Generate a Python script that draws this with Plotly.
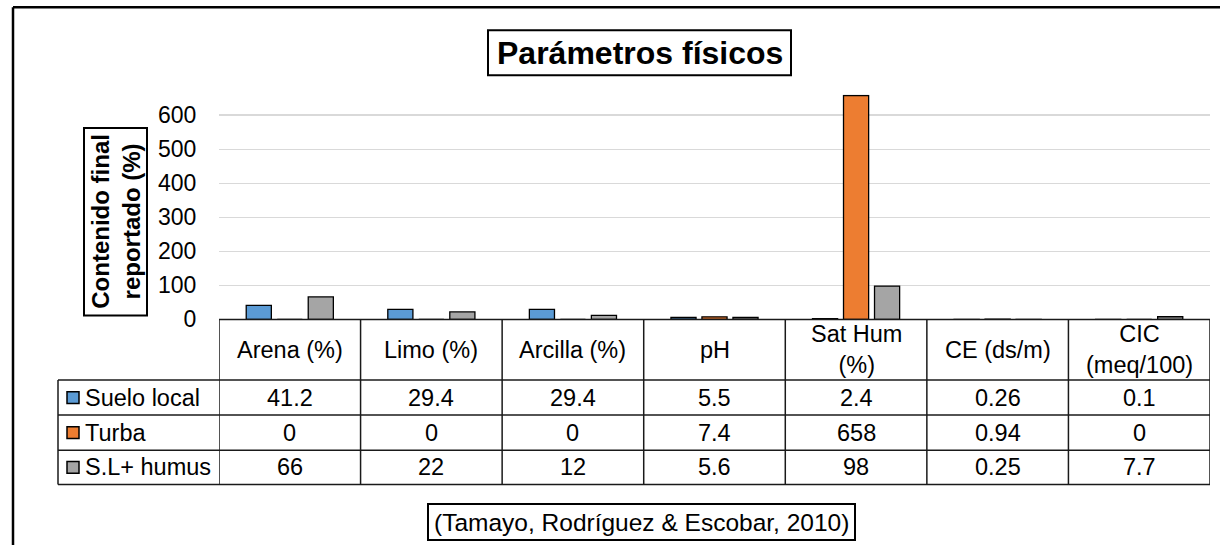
import plotly.graph_objects as go

categories = ["Arena (%)", "Limo (%)", "Arcilla (%)", "pH", "Sat Hum<br>(%)", "CE (ds/m)", "CIC<br>(meq/100)"]
series_names = ["Suelo local", "Turba", "S.L+ humus"]
suelo_local = [41.2, 29.4, 29.4, 5.5, 2.4, 0.26, 0.1]
turba = [0, 0, 0, 7.4, 658, 0.94, 0]
sl_humus = [66, 22, 12, 5.6, 98, 0.25, 7.7]
colors = ["#5B9BD5", "#ED7D31", "#A5A5A5"]
y_ticks = [0, 100, 200, 300, 400, 500, 600]
title_text = "Parámetros físicos"
ytitle_text = "Contenido final<br>reportado (%)"
source_text = "(Tamayo, Rodríguez & Escobar, 2010)"

W, H = 1220, 558
FONT = "Liberation Sans, Arial, sans-serif"
FS = 23.5

def px(x):
    return x / W

def py(y):
    return 1 - y / H

series = [suelo_local, turba, sl_humus]
xidx = list(range(len(categories)))

fig = go.Figure()
for name, vals, col in zip(series_names, series, colors):
    fig.add_trace(go.Bar(
        x=xidx, y=vals, name=name,
        marker=dict(color=col, line=dict(color="#000000", width=1.3)),
        showlegend=False, hoverinfo="skip",
    ))

plot_left, plot_right = 219, 1210
y0_px, top_px = 327, 97.1
row_edges = [327, 389, 425, 461, 496]
legend_left = 58

fig.update_layout(
    width=W, height=H, autosize=False,
    margin=dict(l=0, r=0, t=0, b=0),
    paper_bgcolor="white", plot_bgcolor="white",
    barmode="group", bargap=0.343, bargroupgap=0.19,
    font=dict(family=FONT, size=FS, color="#000000"),
    xaxis=dict(domain=[px(plot_left), px(plot_right)], range=[-0.5, len(categories) - 0.5],
               showticklabels=False, showgrid=False, zeroline=False, showline=False, fixedrange=True),
    yaxis=dict(domain=[py(y0_px), py(top_px)], range=[0, 660], tickvals=y_ticks,
               showgrid=True, gridcolor="#D9D9D9", gridwidth=1.5, zeroline=False, showline=False,
               ticks="outside", ticklen=17, tickcolor="rgba(0,0,0,0)",
               tickfont=dict(family=FONT, size=23, color="#000000")),
)

shapes = []
line_col = "#1a1a1a"
shapes.append(dict(type="line", xref="paper", yref="paper", x0=px(plot_left), x1=px(plot_right),
                   y0=py(row_edges[0]), y1=py(row_edges[0]), line=dict(color=line_col, width=1.5)))
for ry in row_edges[1:]:
    shapes.append(dict(type="line", xref="paper", yref="paper", x0=px(legend_left), x1=px(plot_right),
                       y0=py(ry), y1=py(ry), line=dict(color=line_col, width=1.5)))
for i in range(len(categories) + 1):
    shapes.append(dict(type="line", xref="x", yref="paper", x0=i - 0.5, x1=i - 0.5,
                       y0=py(row_edges[0]), y1=py(row_edges[-1]), line=dict(color=line_col, width=1.5)))
shapes.append(dict(type="line", xref="paper", yref="paper", x0=px(legend_left), x1=px(legend_left),
                   y0=py(row_edges[1]), y1=py(row_edges[-1]), line=dict(color=line_col, width=1.5)))

annotations = []
for i, c in enumerate(categories):
    annotations.append(dict(x=i, y=py((row_edges[0] + row_edges[1]) / 2), xref="x", yref="paper",
                            text=c, showarrow=False, xanchor="center", yanchor="middle",
                            font=dict(family=FONT, size=FS, color="#000000")))
for r, (name, vals, col) in enumerate(zip(series_names, series, colors)):
    yc = (row_edges[r + 1] + row_edges[r + 2]) / 2
    shapes.append(dict(type="rect", xref="paper", yref="paper", x0=px(67), x1=px(79),
                       y0=py(yc - 6), y1=py(yc + 6), fillcolor=col, line=dict(color="#000000", width=1.5)))
    annotations.append(dict(x=px(83), y=py(yc), xref="paper", yref="paper", text=name, showarrow=False,
                            xanchor="left", yanchor="middle", font=dict(family=FONT, size=FS, color="#000000")))
    for i, v in enumerate(vals):
        annotations.append(dict(x=i, y=py(yc), xref="x", yref="paper", text=f"{v:g}", showarrow=False,
                                xanchor="center", yanchor="middle",
                                font=dict(family=FONT, size=FS, color="#000000")))

shapes.append(dict(type="rect", xref="paper", yref="paper", x0=px(488), x1=px(791), y0=py(77), y1=py(31),
                   line=dict(color="#000000", width=2), fillcolor="rgba(0,0,0,0)"))
annotations.append(dict(x=px(639.5), y=py(54.5), xref="paper", yref="paper", text=f"<b>{title_text}</b>",
                        showarrow=False, xanchor="center", yanchor="middle",
                        font=dict(family=FONT, size=32, color="#000000")))
shapes.append(dict(type="rect", xref="paper", yref="paper", x0=px(84), x1=px(147), y0=py(323), y1=py(131),
                   line=dict(color="#000000", width=2), fillcolor="rgba(0,0,0,0)"))
annotations.append(dict(x=px(116), y=py(227), xref="paper", yref="paper", text=f"<b>{ytitle_text}</b>",
                        showarrow=False, xanchor="center", yanchor="middle", textangle=-90,
                        font=dict(family=FONT, size=24, color="#000000")))
shapes.append(dict(type="rect", xref="paper", yref="paper", x0=px(428), x1=px(855), y0=py(553), y1=py(516),
                   line=dict(color="#000000", width=2), fillcolor="rgba(0,0,0,0)"))
annotations.append(dict(x=px(641.5), y=py(534.5), xref="paper", yref="paper", text=source_text,
                        showarrow=False, xanchor="center", yanchor="middle",
                        font=dict(family=FONT, size=24.5, color="#000000")))
shapes.append(dict(type="line", xref="paper", yref="paper", x0=px(13), x1=1, y0=py(7.5), y1=py(7.5),
                   line=dict(color="#000000", width=2.5)))
shapes.append(dict(type="line", xref="paper", yref="paper", x0=px(13), x1=px(13), y0=py(7.5), y1=0,
                   line=dict(color="#000000", width=2.5)))

fig.update_layout(shapes=shapes, annotations=annotations)
post = """
var de=document.documentElement, b=document.body;
de.style.margin='0'; b.style.margin='0'; b.style.padding='0';
de.style.overflow='hidden'; b.style.overflow='hidden';
"""
fig.write_html("out.html", config={"responsive": False, "displayModeBar": False, "staticPlot": True},
               post_script=post)
